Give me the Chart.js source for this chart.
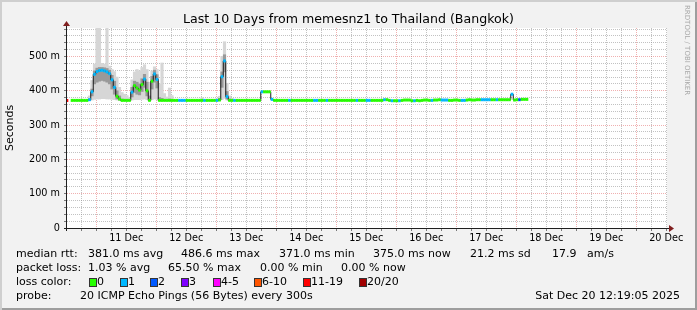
<!DOCTYPE html>
<html>
<head>
<meta charset="utf-8">
<script src="https://cdn.jsdelivr.net/npm/chart.js@4.4.1/dist/chart.umd.min.js"></script>
<style>
  html, body { margin: 0; padding: 0; background: #f2f2f2; }
  #frame {
    position: relative; width: 697px; height: 310px; overflow: hidden;
    background: #f2f2f2;
    box-shadow: inset 2px 2px 0 #cfcfcf, inset -2px -2px 0 #9e9e9e;
    font-family: 'DejaVu Sans', sans-serif; color: #000;
  }
  #chart { position: absolute; left: 0; top: 0; }
  .t { position: absolute; white-space: pre; font-size: 11px; line-height: 14px; }
  #title { position: absolute; left: 0; width: 697px; top: 12px; text-align: center; font-size: 12.6px; line-height: 14px; }
  #mark { position: absolute; left: 683px; top: 5px; writing-mode: vertical-rl; font-size: 7px; color: #a8a8a8; white-space: pre; }
  .box { position: absolute; width: 8px; height: 9px; box-sizing: border-box; border: 1px solid #333; }
</style>
</head>
<body>
<div id="frame">
  <canvas id="chart" width="697" height="310"></canvas>
  <div id="title">Last 10 Days from memesnz1 to Thailand (Bangkok)</div>
  <div id="mark">RRDTOOL / TOBI OETIKER</div>

  <span class="t" style="left:16px;top:247px">median rtt:</span>
  <span class="t" style="left:88px;top:247px">381.0 ms avg</span>
  <span class="t" style="left:181px;top:247px">486.6 ms max</span>
  <span class="t" style="left:279px;top:247px">371.0 ms min</span>
  <span class="t" style="left:373px;top:247px">375.0 ms now</span>
  <span class="t" style="left:470px;top:247px">21.2 ms sd</span>
  <span class="t" style="left:552px;top:247px">17.9</span>
  <span class="t" style="left:587px;top:247px">am/s</span>

  <span class="t" style="left:16px;top:261px">packet loss:</span>
  <span class="t" style="left:88px;top:261px">1.03 % avg</span>
  <span class="t" style="left:168px;top:261px">65.50 % max</span>
  <span class="t" style="left:260px;top:261px">0.00 % min</span>
  <span class="t" style="left:341px;top:261px">0.00 % now</span>

  <span class="t" style="left:16px;top:275px">loss color:</span>
  <div id="lossLegend"></div>

  <span class="t" style="left:16px;top:289px">probe:</span>
  <span class="t" style="left:80px;top:289px">20 ICMP Echo Pings (56 Bytes) every 300s</span>
  <span class="t" style="right:17px;top:289px">Sat Dec 20 12:19:05 2025</span>
</div>
<script>
// one value per hour, hour 0 = left edge of the graph (Dec 10 12:19)
const median = [
  372, null, 372, 372, 372, 372, 372, 372, 372, 374,
  397, 448, 456, 459, 460, 458, 455, 450, 432, 410,
  384, 376, 372, 372, 372, 372, 396, 415, 408, 402,
  418, 434, 400, 372, 428, 449, 433, 372, 372, 372,
  372, 372, 372, 372, 372, 372, 372, 372, 372, 372,
  372, 372, 372, 372, 372, 372, 372, 372, 372, 372,
  372, 373, 441, 487, 383, 372, 372, 372, 372, 372,
  372, 372, 372, 372, 372, 372, 372, 372, 397, 397,
  397, 397, 375, 372, 372, 372, 372, 372, 372, 372,
  372, 372, 372, 372, 372, 372, 372, 372, 372, 372,
  372, 372, 372, 372, 372, 372, 372, 372, 372, 372,
  372, 372, 372, 372, 372, 372, 372, 372, 372, 372,
  372, 372, 372, 372, 372, 372, 372, 374, 374, 372,
  371, 371, 371, 371, 372, 373, 373, 373, 371, 371,
  372, 371, 372, 373, 373, 372, 372, 373, 373, 374,
  373, 373, 373, 372, 372, 373, 373, 372, 372, 372,
  373, 374, 373, 373, 374, 374, 374, 374, 374, 374,
  374, 374, 374, 374, 374, 374, 374, 374, 390, 373,
  374, 374, 375, 375, 375
];

// loss bucket per hour (index into lossColors)
const loss = [
  6, 0, 0, 0, 0, 0, 0, 0, 0, 1,
  1, 1, 1, 1, 1, 1, 1, 1, 1, 1,
  0, 0, 0, 0, 0, 0, 1, 0, 0, 0,
  0, 1, 0, 0, 0, 1, 1, 0, 0, 0,
  0, 0, 0, 0, 0, 1, 1, 1, 0, 0,
  0, 0, 0, 0, 0, 1, 0, 0, 0, 0,
  1, 0, 1, 1, 1, 0, 0, 1, 0, 0,
  0, 0, 0, 0, 0, 0, 0, 0, 1, 0,
  0, 0, 1, 0, 0, 0, 0, 0, 0, 1,
  0, 0, 0, 0, 0, 0, 0, 0, 0, 1,
  1, 0, 0, 0, 1, 0, 0, 0, 0, 0,
  0, 0, 0, 0, 0, 0, 1, 0, 0, 0,
  1, 1, 0, 0, 0, 0, 0, 1, 0, 0,
  1, 0, 0, 1, 0, 0, 0, 0, 0, 1,
  0, 0, 0, 0, 0, 0, 1, 0, 0, 0,
  1, 1, 1, 0, 0, 0, 0, 0, 1, 1,
  0, 0, 0, 0, 0, 0, 1, 1, 1, 1,
  0, 0, 1, 0, 0, 0, 0, 0, 1, 0,
  0, 2, 0, 0, 0
];

// smoke (spread of the 20 pings), starting at hour smokeStart
const smokeStart = 9;
const smokeLo = [
  372, 373, 375, 376, 376, 377, 377, 376, 376, 375,
  374, 373, 372, 371, 371, 371, 371, 373, 374, 374,
  374, 375, 376, 374, 372, 374, 376, 375, 371, 371,
  371, 371, 371, 371, null, null, null, null, null, null,
  null, null, null, null, null, 371, null, null, null, null,
  null, 371, 371, 374, 378, 373, 371, 371
];
const smokeHi = [
  385, 430, 478, 583, 583, 480, 478, 583, 472, 462,
  456, 440, 410, 395, 390, 386, 380, 432, 455, 462,
  458, 468, 476, 462, 425, 458, 470, 462, 420, 481,
  392, 382, 408, 386, null, null, null, null, null, null,
  null, null, null, null, null, 380, null, null, null, null,
  null, 376, 384, 500, 543, 422, 385, 378
];
const midLo = [
  372, 385, 420, 425, 428, 430, 428, 425, 420, 405,
  390, 376, 373, 372, 372, 372, 372, 382, 395, 390,
  388, 398, 410, 385, 372, 405, 425, 408, 372, 372,
  372, 372, 372, 372, null, null, null, null, null, null,
  null, null, null, null, null, null, null, null, null, null,
  null, null, 372, 410, 455, 376, 372, null
];
const midHi = [
  376, 405, 458, 466, 468, 468, 467, 465, 460, 445,
  428, 400, 385, 376, 374, 374, 373, 410, 428, 425,
  420, 435, 448, 425, 385, 442, 460, 447, 380, 378,
  374, 373, 376, 373, null, null, null, null, null, null,
  null, null, null, null, null, null, null, null, null, null,
  null, null, 378, 455, 505, 398, 376, null
];

const lossColors = ['#26ff00', '#00b8ff', '#0059ff', '#7e00ff', '#ff00ff', '#ff5500', '#ff0000', '#a10000'];
const lossLabels = ['0', '1', '2', '3', '4-5', '6-10', '11-19', '20/20'];
const dayLabels = ['11 Dec', '12 Dec', '13 Dec', '14 Dec', '15 Dec', '16 Dec', '17 Dec', '18 Dec', '19 Dec', '20 Dec'];
const yLabels = ['0', '100 m', '200 m', '300 m', '400 m', '500 m'];
const yMax = 583;

// legend boxes
const boxLeft = [89, 120, 150, 181, 213, 254, 303, 359];
const lossLegend = document.getElementById('lossLegend');
lossLabels.forEach((lab, i) => {
  const b = document.createElement('div');
  b.className = 'box';
  b.style.left = boxLeft[i] + 'px';
  b.style.top = '278px';
  b.style.background = lossColors[i];
  lossLegend.appendChild(b);
  const s = document.createElement('span');
  s.className = 't';
  s.style.left = (boxLeft[i] + 8) + 'px';
  s.style.top = '275px';
  s.textContent = lab;
  lossLegend.appendChild(s);
});

// time axis: hours since the start of the 10 day window
const endTime = Date.UTC(2025, 11, 20, 12, 19, 5);
const rangeHours = 240;
const startTime = endTime - rangeHours * 3600e3;
const xTicks = [];
let dayIdx = 0;
for (let t = Math.ceil(startTime / 21600e3) * 21600e3; t <= endTime; t += 21600e3) {
  const h = new Date(t).getUTCHours();
  xTicks.push({ value: (t - startTime) / 3600e3, major: h === 0, text: h === 12 ? dayLabels[dayIdx++] : '' });
}
const yTicks = [];
for (let v = 0; v < yMax; v += 20) yTicks.push(v);

const MAJOR = 'rgba(222,79,79,0.45)';
const MINOR = 'rgba(143,143,143,0.55)';

const pts = median.map((v, i) => ({ x: i, y: v }));
const band = (lo, hi) => lo.map((v, k) => (v == null || hi[k] == null) ? null : { x: smokeStart + k, y: [v, hi[k]] }).filter(p => p);

const framePlugin = {
  id: 'frame',
  beforeDraw(chart) {
    const { ctx, chartArea: a } = chart;
    ctx.save();
    ctx.fillStyle = '#ffffff';
    ctx.fillRect(a.left, a.top, a.right - a.left, a.bottom - a.top);
    ctx.restore();
  },
  afterDraw(chart) {
    const { ctx, chartArea: a } = chart;
    ctx.save();
    ctx.strokeStyle = '#1f1f1f';
    ctx.lineWidth = 1;
    ctx.beginPath();
    ctx.moveTo(a.left - 3, a.bottom + 0.5);
    ctx.lineTo(a.right + 3, a.bottom + 0.5);
    ctx.moveTo(a.left - 0.5, a.bottom + 3);
    ctx.lineTo(a.left - 0.5, a.top - 3);
    ctx.stroke();
    ctx.fillStyle = '#801f1f';
    ctx.beginPath();
    ctx.moveTo(a.right + 2, a.bottom - 3);
    ctx.lineTo(a.right + 7, a.bottom + 0.5);
    ctx.lineTo(a.right + 2, a.bottom + 4);
    ctx.closePath();
    ctx.fill();
    ctx.beginPath();
    ctx.moveTo(a.left - 4, a.top - 2);
    ctx.lineTo(a.left - 0.5, a.top - 7);
    ctx.lineTo(a.left + 3, a.top - 2);
    ctx.closePath();
    ctx.fill();
    ctx.restore();
  }
};

new Chart(document.getElementById('chart'), {
  data: {
    datasets: [
      {
        type: 'line', data: pts, order: 1, showLine: false,
        pointStyle: 'line', pointRadius: 1.3, pointHoverRadius: 1.3,
        pointBorderWidth: 3, pointHoverBorderWidth: 3,
        pointBorderColor: loss.map(b => lossColors[b])
      },
      {
        type: 'line', data: pts, order: 2, stepped: 'middle',
        borderColor: '#1a1a1a', borderWidth: 1, pointRadius: 0, spanGaps: false
      },
      {
        type: 'bar', data: band(midLo, midHi), order: 3, grouped: false,
        backgroundColor: '#999999', borderWidth: 0, barPercentage: 1, categoryPercentage: 1
      },
      {
        type: 'bar', data: band(smokeLo, smokeHi), order: 4, grouped: false,
        backgroundColor: '#d6d6d6', borderWidth: 0, barPercentage: 1, categoryPercentage: 1
      }
    ]
  },
  options: {
    responsive: false,
    animation: false,
    events: [],
    layout: { padding: { top: 28, right: 30, left: 0, bottom: 60 } },
    plugins: { legend: { display: false }, tooltip: { enabled: false }, title: { display: false } },
    scales: {
      x: {
        type: 'linear', min: 0, max: rangeHours, offset: false,
        afterBuildTicks: s => { s.ticks = xTicks.map(t => ({ value: t.value })); },
        afterFit: s => { s.height = 22; },
        border: { display: false, dash: [1, 1] },
        grid: {
          offset: false, lineWidth: 1, drawTicks: true, tickLength: 3,
          color: c => (c.tick && xTicks[c.index] && xTicks[c.index].major) ? MAJOR : MINOR,
          tickColor: 'rgba(0,0,0,0.5)'
        },
        ticks: {
          autoSkip: false, maxRotation: 0, minRotation: 0, padding: 2, color: '#000',
          font: { family: 'DejaVu Sans', size: 9.7 },
          callback: (v, i) => xTicks[i] ? xTicks[i].text : ''
        }
      },
      y: {
        type: 'linear', min: 0, max: yMax,
        afterBuildTicks: s => { s.ticks = yTicks.map(v => ({ value: v })); },
        afterFit: s => { s.width = 67; },
        border: { display: false, dash: [1, 1] },
        grid: {
          lineWidth: 1, drawTicks: true, tickLength: 3,
          color: c => (c.tick && c.tick.value % 100 === 0) ? MAJOR : MINOR,
          tickColor: 'rgba(0,0,0,0.5)'
        },
        title: {
          display: true, text: 'Seconds', color: '#000',
          font: { family: 'DejaVu Sans', size: 11 }, padding: { top: 3.4, bottom: 0 }
        },
        ticks: {
          autoSkip: false, padding: 4, color: '#000',
          font: { family: 'DejaVu Sans', size: 9.7 },
          callback: v => v % 100 === 0 ? yLabels[v / 100] : ''
        }
      }
    }
  },
  plugins: [framePlugin]
});
</script>
</body>
</html>
